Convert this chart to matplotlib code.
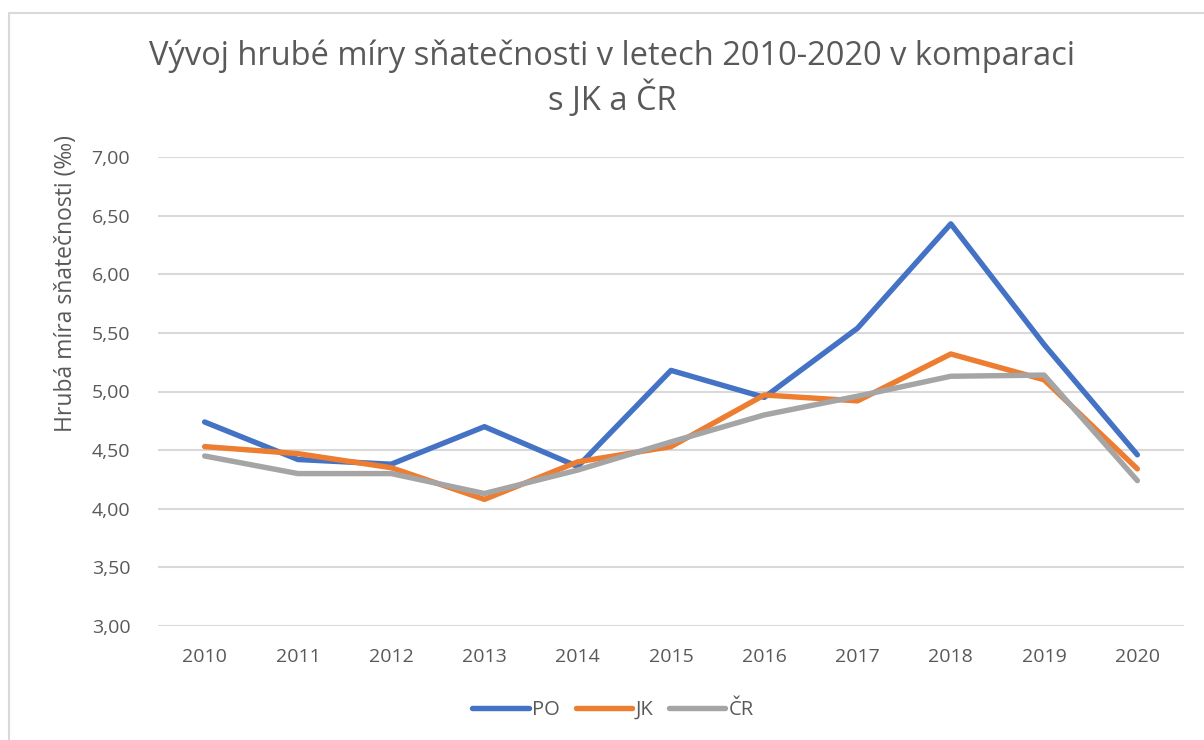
import matplotlib
matplotlib.use("Agg")
import matplotlib.pyplot as plt
from matplotlib.patches import Rectangle

plt.rcParams['font.family'] = ['Open Sans', 'DejaVu Sans']

# data
years = ['2010', '2011', '2012', '2013', '2014', '2015', '2016', '2017', '2018', '2019', '2020']
po = [4.74, 4.42, 4.38, 4.70, 4.36, 5.18, 4.95, 5.54, 6.43, 5.40, 4.46]
jk = [4.53, 4.47, 4.35, 4.08, 4.40, 4.53, 4.97, 4.92, 5.32, 5.10, 4.34]
cr = [4.45, 4.30, 4.30, 4.13, 4.33, 4.57, 4.80, 4.96, 5.13, 5.14, 4.24]

series = [('PO', po, '#4472C4'), ('JK', jk, '#ED7D31'), ('ČR', cr, '#A5A5A5')]
text_col = '#595959'

fig = plt.figure(figsize=(12.04, 7.40), dpi=100)
ax = fig.add_axes([158/1204, 114/740, (1184-158)/1204, (626-157)/740])

x = range(len(years))
for name, vals, col in series:
    ax.plot(x, vals, color=col, lw=3.9, label=name, solid_capstyle='round', solid_joinstyle='round')

ax.set_xlim(-0.5, len(years) - 0.5)
ax.set_ylim(3, 7)
ax.set_yticks([3, 3.5, 4, 4.5, 5, 5.5, 6, 6.5, 7])
ax.set_yticklabels([f'{v:.2f}'.replace('.', ',') for v in ax.get_yticks()])
ax.set_xticks(list(x))
ax.set_xticklabels(years)
ax.grid(axis='y', color='#d9d9d9', lw=1.5)
ax.set_axisbelow(True)
for s in ax.spines.values():
    s.set_visible(False)
ax.tick_params(length=0, labelsize=14, labelcolor=text_col)
ax.tick_params(axis='y', pad=20)
ax.tick_params(axis='x', pad=16)

fig.text(66/1204, 1 - 283/740, 'Hrubá míra sňatečnosti (‰)', rotation=90,
         ha='center', va='center', fontsize=16.5, color=text_col)

fig.text(612/1204, 1 - 79/740, 'Vývoj hrubé míry sňatečnosti v letech 2010-2020 v komparaci\ns JK a ČR',
         ha='center', va='center', fontsize=23.5, color=text_col, linespacing=1.25)

leg = fig.legend(loc='center', bbox_to_anchor=(613/1204, 1 - 710/740), ncol=3, frameon=False,
                 fontsize=14.5, handlelength=2.8, columnspacing=0.8, handletextpad=0.15)
for t in leg.get_texts():
    t.set_color(text_col)

fig.add_artist(Rectangle((9/1204, -0.05), 1.2, 1.05 - 13/740, transform=fig.transFigure,
                         fill=False, ec='#d9d9d9', lw=1.5, clip_on=False))

fig.savefig('out.png', dpi=100)
